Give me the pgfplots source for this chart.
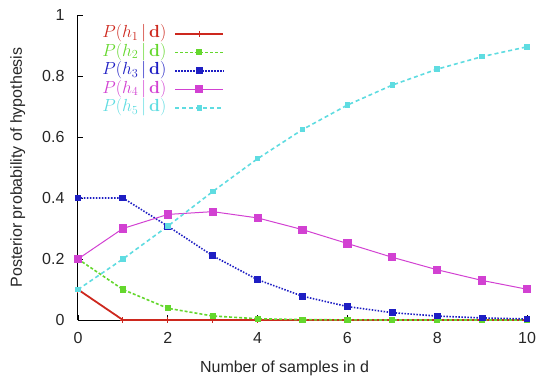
\RequirePackage{fix-cm}
\documentclass[border=0pt]{standalone}
\usepackage[no-math]{fontspec}
\setmainfont{Liberation Sans}
\usepackage{pgfplots}
\pgfplotsset{compat=1.18}
\definecolor{cR}{RGB}{205,40,30}
\definecolor{cG}{RGB}{100,215,45}
\definecolor{cB}{RGB}{30,30,195}
\definecolor{cM}{RGB}{210,65,210}
\definecolor{cC}{RGB}{95,220,225}
\begin{document}
\begin{tikzpicture}
\begin{axis}[
  scale only axis, width=449pt, height=305pt,
  xmin=0, xmax=10, ymin=0, ymax=1,
  axis lines*=left, axis line style={line width=1pt, black},
  clip=false,
  xtick={0,2,4,6,8,10}, ytick={0,0.2,0.4,0.6,0.8,1},
  tick align=inside, major tick length=5pt, tick style={black, line width=0.8pt},
  /pgf/number format/assume math mode=true,
  ticklabel style={font=\fontsize{16}{18}\selectfont, text=black!85},
  yticklabel style={xshift=-10pt},
  xticklabel style={yshift=-9pt},
  label style={font=\fontsize{16}{18}\selectfont, text=black!85},
  xlabel={Number of samples in d},
  ylabel={Posterior probability of hypothesis},
  xlabel style={at={(axis description cs:0.46,-0.157)}, anchor=center},
  ylabel style={at={(axis description cs:-0.134,0.5)}, anchor=center},
  legend plot pos=right,
  legend cell align=left,
  legend style={draw=none, fill=none, at={(rel axis cs:0.045,0.975)}, anchor=north west,
    font=\fontsize{17.5}{19}\selectfont, row sep=0.5pt, column sep=7pt,
    nodes={inner sep=1pt, text height=12pt, text depth=4pt}},
  legend image code/.code={\draw[mark repeat=2,mark phase=2,#1] plot coordinates {(0cm,0cm)(0.85cm,0cm)(1.7cm,0cm)};},
]
\addplot[cR, line width=1.8pt, mark=+, mark size=3pt, mark options={line width=1pt}] coordinates {
(0,0.1)(1,0)(2,0)(3,0)(4,0)(5,0)(6,0)(7,0)(8,0)(9,0)(10,0)};
\addlegendentry{\textcolor{cR}{$P(h_1\,|\,\mathbf{d})$}}
\addplot[cG, line width=1.6pt, dash pattern=on 3pt off 2pt, mark=square*, mark size=2.3pt, mark options={solid}] coordinates {
(0,0.2)(1,0.1)(2,0.03846)(3,0.01316)(4,0.00413)(5,0.00122)(6,0.000344)(7,0.000094)(8,0.000025)(9,0.0000066)(10,0.0000017)};
\addlegendentry{\textcolor{cG}{$P(h_2\,|\,\mathbf{d})$}}
\addplot[cB, line width=1.6pt, dash pattern=on 1.5pt off 1.5pt, mark=square*, mark size=2.6pt, mark options={solid}] coordinates {
(0,0.4)(1,0.4)(2,0.30769)(3,0.21053)(4,0.13223)(5,0.07805)(6,0.04405)(7,0.02407)(8,0.01285)(9,0.00675)(10,0.0035)};
\addlegendentry{\textcolor{cB}{$P(h_3\,|\,\mathbf{d})$}}
\addplot[cM, line width=1pt, mark=square*, mark size=3.6pt, mark options={solid}] coordinates {
(0,0.2)(1,0.3)(2,0.34615)(3,0.35526)(4,0.33471)(5,0.29634)(6,0.25086)(7,0.20562)(8,0.16468)(9,0.12968)(10,0.10087)};
\addlegendentry{\textcolor{cM}{$P(h_4\,|\,\mathbf{d})$}}
\addplot[cC, line width=1.6pt, dash pattern=on 4pt off 3pt, mark=square*, mark size=2pt, mark options={solid}] coordinates {
(0,0.1)(1,0.2)(2,0.30769)(3,0.42105)(4,0.52893)(5,0.62439)(6,0.70475)(7,0.77021)(8,0.82245)(9,0.86357)(10,0.89563)};
\addlegendentry{\textcolor{cC}{$P(h_5\,|\,\mathbf{d})$}}
\coordinate (O) at (rel axis cs:0,0);
\end{axis}
\path ([shift={(-78pt,-61pt)}]O) rectangle ([shift={(476pt,320pt)}]O);
\end{tikzpicture}
\end{document}
